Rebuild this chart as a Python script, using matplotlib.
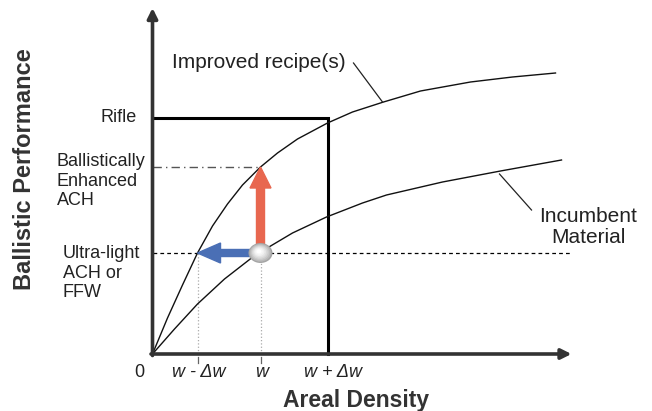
"""
Ballistic performance vs areal density - concept sketch
"""
import numpy as np
import matplotlib.pyplot as plt
from matplotlib.patches import Ellipse

plt.rcParams['font.family'] = ['Liberation Sans', 'DejaVu Sans']

# ----------------------------------------------------------------------------
# Values (arbitrary units, origin at the axes corner)
# ----------------------------------------------------------------------------
improved_x = [0, 15, 30, 45, 60, 75, 90, 108, 125, 145, 175, 200, 231, 268, 318, 360, 403]
improved_y = [0, 36, 69, 101, 128, 150, 169, 187, 201, 215, 231, 242, 252, 263, 272, 277, 281]

incumbent_x = [0, 22, 45, 72, 99, 108, 140, 174, 210, 234, 290, 348, 409]
incumbent_y = [0, 25, 50, 75, 96, 102, 121, 137, 151, 159, 172, 183, 194]

rifle_level = 236
enhanced_level = 187
ultralight_level = 101

w_minus, w, w_plus = 45, 108, 175
tick_pos = [-13, 46, 109, 181]
tick_labels = ['0', 'w - Δw', 'w', 'w + Δw']

level_labels = ['Rifle', 'Ballistically\nEnhanced\nACH', 'Ultra-light\nACH or\nFFW']

x_end = 419
y_end = 346

# ----------------------------------------------------------------------------
fig = plt.figure(figsize=(6.52, 4.11), dpi=100)
ax = fig.add_axes([0, 0, 1, 1])
ax.set_xlim(-152.5, 499.5)
ax.set_ylim(-57, 354)
ax.axis('off')

txt = '#222222'

# axes with arrow heads
ax.annotate('', xy=(0, y_end), xytext=(0, -1.5),
            arrowprops=dict(arrowstyle='-|>', lw=2.6, color='#333333',
                            mutation_scale=15, shrinkA=0, shrinkB=0))
ax.annotate('', xy=(x_end, 0), xytext=(-1.5, 0),
            arrowprops=dict(arrowstyle='-|>', lw=2.6, color='#333333',
                            mutation_scale=15, shrinkA=0, shrinkB=0))

# rifle box
ax.plot([0, w_plus, w_plus], [rifle_level, rifle_level, 0], color='black', lw=2.2,
        solid_joinstyle='miter')

# reference lines
ax.plot([0, w], [enhanced_level, enhanced_level], color='#555555', lw=1.0,
        dashes=(6, 3, 1, 3))
ax.plot([0, x_end], [ultralight_level, ultralight_level], color='black', lw=0.9,
        dashes=(3, 2.5))
for xv in (w_minus, w):
    ax.plot([xv, xv], [0, ultralight_level], color='#aaaaaa', lw=0.9, ls=':')
    ax.plot([xv, xv], [-3, -9], color='#666666', lw=0.9)

# curves
ax.plot(improved_x, improved_y, color='#111111', lw=1.0, solid_joinstyle='round')
ax.plot(incumbent_x, incumbent_y, color='#111111', lw=1.0, solid_joinstyle='round')

# leader lines
ax.plot([201, 230], [291, 252], color='#222222', lw=0.9)
ax.plot([347, 379], [180, 144], color='#222222', lw=0.9)

# arrows
ax.arrow(w, ultralight_level + 8, 0, enhanced_level - ultralight_level - 8,
         width=8, head_width=21, head_length=21, length_includes_head=True,
         color='#e8674f', zorder=4)
ax.arrow(w - 10, ultralight_level, w_minus - w + 10, 0,
         width=7, head_width=20, head_length=23, length_includes_head=True,
         color='#4a6fb5', zorder=4)

# sphere
for k, c in zip(np.linspace(1, 0.2, 8),
                plt.cm.Greys(np.linspace(0.45, 0.0, 8))):
    ax.add_patch(Ellipse((w - 2 * (1 - k), ultralight_level + 2 * (1 - k)),
                         24 * k, 20 * k, color=c, zorder=5, lw=0))

# text
ax.text(20, 291, 'Improved recipe(s)', fontsize=15, va='center', color=txt)
ax.text(436, 127, 'Incumbent\nMaterial', fontsize=15, ha='center', va='center',
        color=txt, linespacing=1.15)
ax.text(-15.5, rifle_level, level_labels[0], fontsize=13, ha='right', va='center', color=txt)
ax.text(-95.5, 173, level_labels[1], fontsize=13, va='center', color=txt, linespacing=1.2)
ax.text(-89.5, 81, level_labels[2], fontsize=13, va='center', color=txt, linespacing=1.2)

for xp, lab in zip(tick_pos, tick_labels):
    ax.text(xp, -18, lab, fontsize=13, ha='center', va='center', color=txt,
            style='normal' if lab == '0' else 'italic')

ax.text(204, -46, 'Areal Density', fontsize=16.5, fontweight='bold', ha='center',
        va='center', color='#333333')
ax.text(-127.5, 185, 'Ballistic Performance', fontsize=17, fontweight='bold',
        rotation=90, ha='center', va='center', color='#333333')

fig.savefig('out.png', dpi=100)
